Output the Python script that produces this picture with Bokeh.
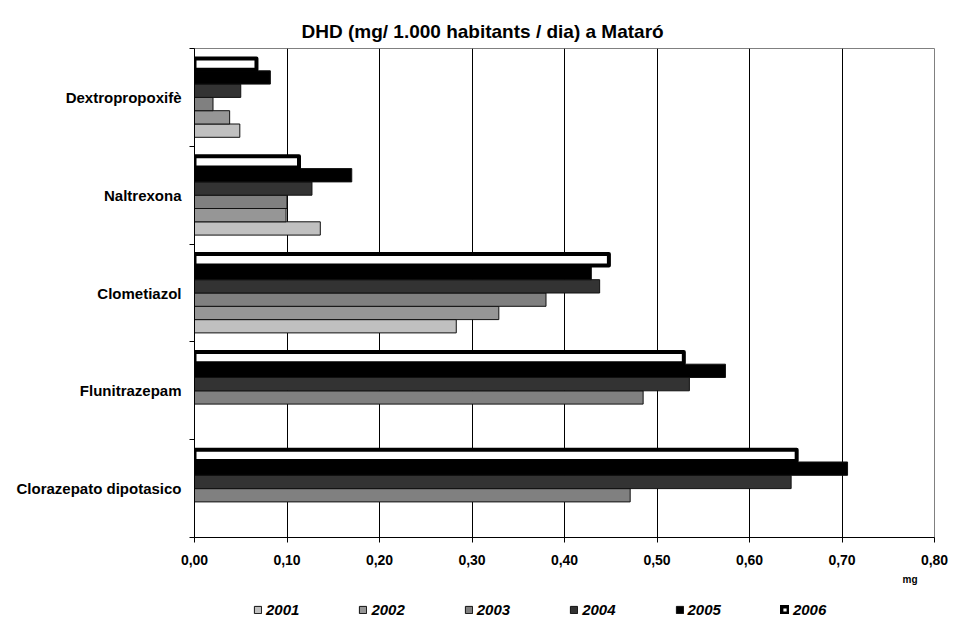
import numpy as np
from bokeh.plotting import figure
from bokeh.layouts import column
from bokeh.models import (ColumnDataSource, FixedTicker, CustomJSTickFormatter, Legend,
                          LegendItem, LinearAxis, Range1d)
from bokeh.embed import file_html
from bokeh.resources import INLINE

# ---------------- data ----------------
categories = ["Dextropropoxifè", "Naltrexona", "Clometiazol", "Flunitrazepam", "Clorazepato dipotasico"]
years = ["2001", "2002", "2003", "2004", "2005", "2006"]
v2001 = [0.049, 0.136, 0.283, np.nan, np.nan]
v2002 = [0.038, 0.099, 0.329, np.nan, np.nan]
v2003 = [0.020, 0.100, 0.380, 0.485, 0.471]
v2004 = [0.050, 0.127, 0.438, 0.535, 0.645]
v2005 = [0.082, 0.170, 0.429, 0.574, 0.706]
v2006 = [0.067, 0.113, 0.448, 0.529, 0.651]
x_ticks = [0.0, 0.1, 0.2, 0.3, 0.4, 0.5, 0.6, 0.7, 0.8]
title_text = "DHD (mg/ 1.000 habitants / dia) a Mataró"
unit_text = "mg"
unit_pos = [0.7735]

series = [v2001, v2002, v2003, v2004, v2005, v2006]
fills = ["#C0C0C0", "#969696", "#808080", "#333333", "#000000", "#FFFFFF"]

FONT = "Liberation Sans"


def bar_style(yr, k):
    if yr == "2006":
        return dict(fill_color="white", line_color="black", line_width=4, line_join="round")
    return dict(fill_color=fills[k], line_color="#111111", line_width=1)


# categories bottom-to-top: last category at position 1
n = len(categories)
pos = {c: n - i for i, c in enumerate(categories)}

p = figure(width=954, height=592, output_backend="svg", toolbar_location=None,
           x_range=Range1d(0, 0.8), y_range=Range1d(0.5, n + 0.5),
           min_border_left=194, min_border_right=20, min_border_top=48, min_border_bottom=55,
           frame_width=740, frame_height=489)
p.background_fill_color = "white"
p.border_fill_color = "white"
p.outline_line_color = "#808080"
p.outline_line_width = 1

bar_h = 0.136
offsets = [(-2.5 + k) * bar_h for k in range(6)]  # 2001 lowest, 2006 top

for k, (yr, vals) in enumerate(zip(years, series)):
    src = ColumnDataSource(dict(y=[pos[c] + offsets[k] for c in categories], right=vals))
    h = bar_h - 0.02 if yr == "2006" else bar_h
    p.hbar(y="y", right="right", left=0, height=h, source=src, **bar_style(yr, k))

# x axis
p.xaxis.ticker = FixedTicker(ticks=x_ticks)
p.xaxis.formatter = CustomJSTickFormatter(code="return tick.toFixed(2).replace('.', ',');")
p.xaxis.major_label_text_font = FONT
p.xaxis.major_label_text_font_style = "bold"
p.xaxis.major_label_text_font_size = "14px"
p.xaxis.major_label_text_color = "black"
p.xaxis.major_tick_out = 5
p.xaxis.major_tick_in = 0
p.xaxis.minor_tick_line_color = None
p.xaxis.axis_line_color = "black"
p.xaxis.major_tick_line_color = "black"
p.xaxis.major_label_standoff = 12

# unit axis ("mg") below the x axis
unit_axis = LinearAxis(ticker=FixedTicker(ticks=unit_pos),
                       formatter=CustomJSTickFormatter(code="return '%s';" % unit_text),
                       axis_line_color=None, major_tick_line_color=None,
                       minor_tick_line_color=None, major_tick_out=0, major_tick_in=0,
                       major_label_standoff=6, major_label_text_font=FONT,
                       major_label_text_font_style="bold", major_label_text_font_size="10px",
                       major_label_text_color="black")
p.add_layout(unit_axis, "below")

# y axis
p.yaxis.ticker = FixedTicker(ticks=[pos[c] for c in categories],
                             minor_ticks=[i + 0.5 for i in range(n + 1)])
p.yaxis.major_label_overrides = {pos[c]: c for c in categories}
p.yaxis.major_label_text_font = FONT
p.yaxis.major_label_text_font_style = "bold"
p.yaxis.major_label_text_font_size = "15px"
p.yaxis.major_label_text_color = "black"
p.yaxis.major_tick_line_color = None
p.yaxis.major_tick_out = 0
p.yaxis.major_tick_in = 0
p.yaxis.minor_tick_out = 5
p.yaxis.minor_tick_in = 0
p.yaxis.minor_tick_line_color = "black"
p.yaxis.axis_line_color = "black"
p.yaxis.major_label_standoff = 8

# grid
p.xgrid.ticker = FixedTicker(ticks=x_ticks)
p.xgrid.grid_line_color = "#000000"
p.xgrid.grid_line_width = 1
p.ygrid.grid_line_color = None

# title
p.title.text = title_text
p.title.text_font = FONT
p.title.text_font_style = "bold"
p.title.text_font_size = "19px"
p.title.text_color = "black"
p.title.align = "left"
p.title.offset = 107
p.title.standoff = 14

# ---------------- legend strip ----------------
lg = figure(width=954, height=26, output_backend="svg", toolbar_location=None,
            x_range=Range1d(0, 1), y_range=Range1d(0, 1), frame_width=954, frame_height=26,
            min_border=0, min_border_left=0, min_border_right=0, min_border_top=0,
            min_border_bottom=0)
lg.axis.visible = False
lg.grid.visible = False
lg.outline_line_color = None
lg.border_fill_color = "white"
lg.background_fill_color = "white"

items = []
for k, yr in enumerate(years):
    # swatch-only renderer (no drawable bars in this strip)
    src = ColumnDataSource(dict(y=[np.nan] * n, right=[np.nan] * n))
    r = lg.hbar(y="y", right="right", left=0, height=0.1, source=src, **bar_style(yr, k))
    items.append(LegendItem(label=yr, renderers=[r], index=0))
legend = Legend(items=items, orientation="horizontal", location=(253, 0),
                glyph_width=9, glyph_height=9, label_standoff=4, spacing=59,
                padding=0, margin=0, border_line_color=None, background_fill_alpha=0,
                label_text_font=FONT, label_text_font_style="bold italic",
                label_text_font_size="15px", label_text_color="black")
lg.add_layout(legend, "center")

layout = column(p, lg, spacing=0)
open("out.html", "w").write(file_html(layout, INLINE))
